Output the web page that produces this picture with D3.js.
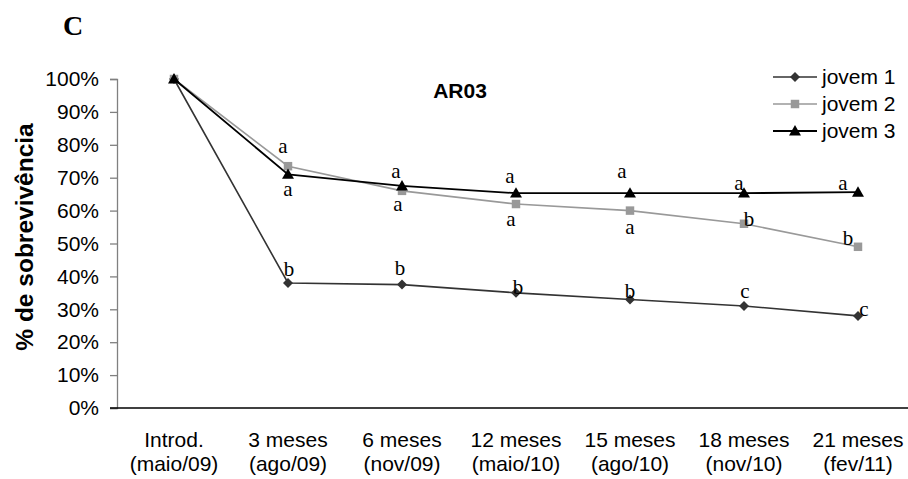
<!DOCTYPE html>
<html>
<head>
<meta charset="utf-8">
<script src="https://cdn.jsdelivr.net/npm/d3@7"></script>
<style>
  html, body { margin: 0; padding: 0; background: #fff; }
  svg { display: block; }
</style>
</head>
<body>
<svg id="chart" width="908" height="479"></svg>
<script>
// Survival (%) of three young-plant groups at site AR03
const categories = [
  ["Introd.", "(maio/09)"],
  ["3 meses", "(ago/09)"],
  ["6 meses", "(nov/09)"],
  ["12 meses", "(maio/10)"],
  ["15 meses", "(ago/10)"],
  ["18 meses", "(nov/10)"],
  ["21 meses", "(fev/11)"]
];
const seriesNames = ["jovem 1", "jovem 2", "jovem 3"];
const jovem1 = [1.00, 0.38, 0.375, 0.35, 0.33, 0.31, 0.28];
const jovem2 = [1.00, 0.735, 0.66, 0.62, 0.60, 0.56, 0.49];
const jovem3 = [1.00, 0.71, 0.675, 0.653, 0.653, 0.653, 0.656];
// Letters from the mean-comparison test at each date
const letters1 = ["", "b", "b", "b", "b", "c", "c"];
const letters2 = ["", "a", "a", "a", "a", "b", "b"];
const letters3 = ["", "a", "a", "a", "a", "a", "a"];
const yTicks = [0, 0.1, 0.2, 0.3, 0.4, 0.5, 0.6, 0.7, 0.8, 0.9, 1.0];

const SANS = "Liberation Sans, Arial, sans-serif";
const SERIF = "Liberation Serif, Times New Roman, serif";

const svg = d3.select("#chart");
const catKeys = categories.map(c => c[0]);

const x = d3.scalePoint().domain(catKeys).range([117, 915]).padding(0.5);
const y = d3.scaleLinear().domain([0, 1]).range([408, 79]);

// Y axis
const yAxis = svg.append("g")
  .attr("transform", "translate(117,0)")
  .call(d3.axisLeft(y).tickValues(yTicks).tickFormat(d3.format(".0%")).tickSize(7).tickPadding(11));
yAxis.select(".domain").attr("stroke", "#808080").attr("stroke-width", 1.3);
yAxis.selectAll(".tick line").attr("stroke", "#808080").attr("stroke-width", 1.3);
yAxis.selectAll(".tick text")
  .attr("font-family", SANS)
  .attr("font-size", 21).attr("fill", "#000");

// X axis baseline
svg.append("line")
  .attr("x1", 110).attr("x2", 908)
  .attr("y1", y(0)).attr("y2", y(0))
  .attr("stroke", "#000").attr("stroke-width", 1.3);

// Category labels (two lines)
const catG = svg.append("g")
  .attr("font-family", SANS)
  .attr("font-size", 21).attr("text-anchor", "middle");
categories.forEach(c => {
  const t = catG.append("text").attr("x", x(c[0])).attr("y", 447);
  t.append("tspan").attr("x", x(c[0])).attr("dy", 0).text(c[0]);
  t.append("tspan").attr("x", x(c[0])).attr("dy", 24).text(c[1]);
});

// Axis title
svg.append("text")
  .attr("transform", "translate(33,237) rotate(-90)")
  .attr("text-anchor", "middle")
  .attr("font-family", SANS)
  .attr("font-weight", "bold").attr("font-size", 24.5)
  .text("% de sobrevivência");

// Panel letter and site name
svg.append("text").attr("x", 63).attr("y", 35)
  .attr("font-family", SERIF)
  .attr("font-weight", "bold").attr("font-size", 28).text("C");
svg.append("text").attr("x", 460).attr("y", 98).attr("text-anchor", "middle")
  .attr("font-family", SANS)
  .attr("font-weight", "bold").attr("font-size", 21).text("AR03");

// Marker shapes
const markers = {
  diamond: d3.symbol().type(d3.symbolSquare).size(50),
  square: d3.symbol().type(d3.symbolSquare).size(72),
  triangle: d3.symbol().type(d3.symbolTriangle).size(62)
};
const markerTransform = (m, px, py) =>
  m === "diamond" ? `translate(${px},${py}) rotate(45)`
  : m === "triangle" ? `translate(${px},${py + 1})`
  : `translate(${px},${py})`;

const series = [
  { name: seriesNames[0], values: jovem1, letters: letters1, color: "#333333", width: 1.6, marker: "diamond",
    offsets: [[0,0],[1,-7],[-2,-10],[2,1],[0,-1],[1,-8],[6,0]] },
  { name: seriesNames[1], values: jovem2, letters: letters2, color: "#999999", width: 1.6, marker: "square",
    offsets: [[0,0],[-5,-13],[-4,20],[-5,22],[0,23],[5,2],[-10,-2]] },
  { name: seriesNames[2], values: jovem3, letters: letters3, color: "#000000", width: 1.8, marker: "triangle",
    offsets: [[0,0],[0,22],[-6,-8],[-6,-10],[-8,-15],[-5,-3],[-15,-2]] }
];

const line = d3.line().x((d, i) => x(catKeys[i])).y(d => y(d));

series.forEach(s => {
  svg.append("path").datum(s.values)
    .attr("d", line).attr("fill", "none")
    .attr("stroke", s.color).attr("stroke-width", s.width);
  svg.append("g").selectAll("path").data(s.values).join("path")
    .attr("d", markers[s.marker])
    .attr("transform", (d, i) => markerTransform(s.marker, x(catKeys[i]), y(d)))
    .attr("fill", s.color);
});

// Significance letters
series.forEach(s => {
  svg.append("g")
    .attr("font-family", SERIF)
    .attr("font-size", 21).attr("text-anchor", "middle")
    .selectAll("text").data(s.values).join("text")
    .attr("x", (d, i) => x(catKeys[i]) + s.offsets[i][0])
    .attr("y", (d, i) => y(d) + s.offsets[i][1])
    .text((d, i) => s.letters[i]);
});

// Legend
const legend = svg.append("g");
series.forEach((s, i) => {
  const ly = 77 + i * 27;
  legend.append("line").attr("x1", 773).attr("x2", 817).attr("y1", ly).attr("y2", ly)
    .attr("stroke", s.color).attr("stroke-width", s.width);
  legend.append("path").attr("d", markers[s.marker])
    .attr("transform", markerTransform(s.marker, 795, ly))
    .attr("fill", s.color);
  legend.append("text").attr("x", 822).attr("y", ly + 7)
    .attr("font-family", SANS)
    .attr("font-size", 21).text(s.name);
});
</script>
</body>
</html>
